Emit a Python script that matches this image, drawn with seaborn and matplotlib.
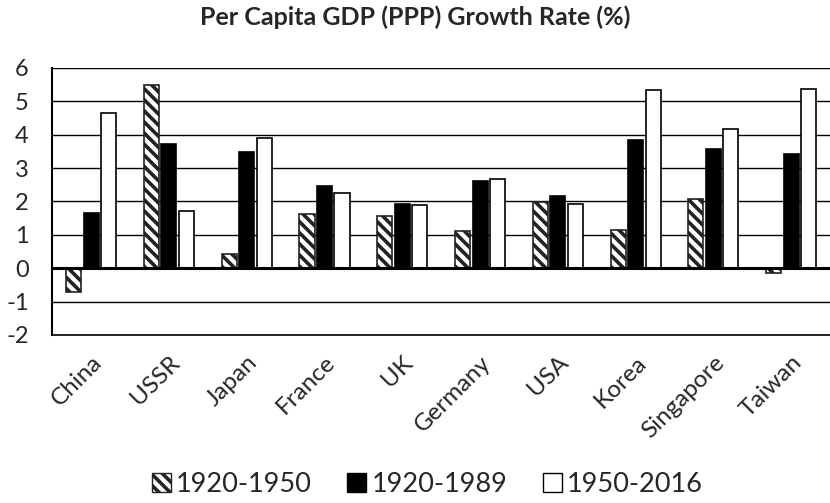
import matplotlib
matplotlib.use("Agg")
import matplotlib.pyplot as plt
import seaborn as sns
import pandas as pd
from matplotlib.patches import Patch

# Values
countries = ["China", "USSR", "Japan", "France", "UK", "Germany", "USA", "Korea", "Singapore", "Taiwan"]
periods = ["1920-1950", "1920-1989", "1950-2016"]
g_1920_1950 = [-0.72, 5.5, 0.43, 1.62, 1.55, 1.1, 1.98, 1.14, 2.08, -0.13]
g_1920_1989 = [1.65, 3.72, 3.49, 2.47, 1.93, 2.62, 2.16, 3.83, 3.56, 3.42]
g_1950_2016 = [4.64, 1.7, 3.89, 2.26, 1.9, 2.68, 1.92, 5.34, 4.16, 5.36]

df = pd.DataFrame({
    "country": countries * 3,
    "period": [periods[0]] * 10 + [periods[1]] * 10 + [periods[2]] * 10,
    "growth": g_1920_1950 + g_1920_1989 + g_1950_2016,
})

sns.set_style("white")
plt.rcParams["font.family"] = ["Lato", "DejaVu Sans"]
plt.rcParams["hatch.linewidth"] = 2.6
plt.rcParams["axes.unicode_minus"] = False

fig = plt.figure(figsize=(8.3, 5.03), dpi=100)
ax = fig.add_axes([0.063, 0.334, 0.937, 0.531])

face = {periods[0]: "white", periods[1]: "black", periods[2]: "white"}
sns.barplot(data=df, x="country", y="growth", hue="period", palette=face,
            width=0.675, gap=0.14, edgecolor="black", linewidth=1.2,
            legend=False, ax=ax, zorder=3)

# hatch the first series
n = len(countries)
for p in ax.patches[:n]:
    p.set_hatch("\\\\\\")
    p.set_edgecolor("#222222")

ax.set_ylim(-2, 6)
ax.set_xlim(-0.5, n - 0.5)
ax.set_yticks(range(-2, 7))
ax.yaxis.grid(True, color="black", linewidth=1.0, zorder=0)
ax.set_axisbelow(True)
ax.axhline(0, color="black", linewidth=2.2, zorder=4)
for s in ["top", "right"]:
    ax.spines[s].set_visible(False)
ax.spines["left"].set_color("black")
ax.spines["left"].set_linewidth(1.5)
ax.spines["bottom"].set_color("black")
ax.spines["bottom"].set_linewidth(1.2)
ax.tick_params(axis="y", length=0, labelsize=17, pad=17)
ax.tick_params(axis="x", length=0, labelsize=17.5, pad=12)
plt.setp(ax.get_xticklabels(), rotation=45, ha="right", rotation_mode="anchor")
ax.set_xlabel("")
ax.set_ylabel("")

fig.suptitle("Per Capita GDP (PPP) Growth Rate (%)", fontsize=18, fontweight="bold", y=0.99)

handles = [
    Patch(facecolor="white", edgecolor="#222222", hatch="\\\\\\", label=periods[0]),
    Patch(facecolor="black", edgecolor="black", label=periods[1]),
    Patch(facecolor="white", edgecolor="black", label=periods[2]),
]
fig.legend(handles=handles, loc="center", ncol=3, frameon=False, fontsize=19.5,
           handlelength=0.7, handleheight=0.7, handletextpad=0.2, columnspacing=1.3,
           bbox_to_anchor=(0.515, 0.036))

fig.savefig("out.png", dpi=100)
